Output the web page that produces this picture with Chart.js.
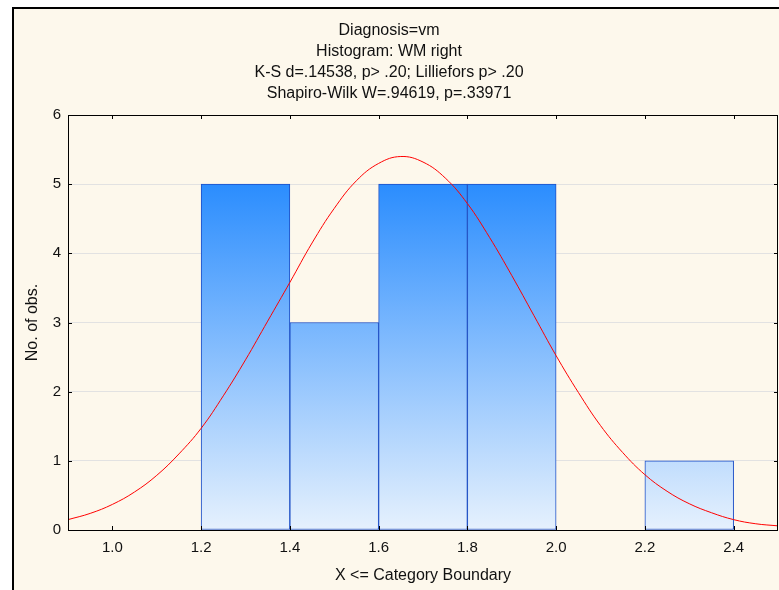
<!DOCTYPE html>
<html lang="en">
<head>
  <meta charset="UTF-8">
  <title>Histogram: WM right</title>
  <script src="https://cdn.jsdelivr.net/npm/chart.js"></script>
  <style>
    body {
      margin: 0;
      background: #fff;
      font-family: 'Liberation Sans', Arial, sans-serif;
    }

    .wrap {
      position: relative;
      width: 779px;
      height: 590px;
      overflow: hidden;
    }

    .frame {
      position: absolute;
      left: 12px;
      top: 7px;
      right: 0;
      bottom: 0;
      border-left: 2px solid #000;
      border-top: 2px solid #000;
      background: #fdf8ec;
    }

    canvas {
      position: absolute;
      left: 0;
      top: 0;
    }
  </style>
</head>
<body>

  <div class="wrap">
    <div class="frame"></div>
    <canvas id="histo" width="779" height="590"></canvas>
  </div>

  <script>
    // histogram bins (centre of each 0.2 wide class) and counts
    const binCentres = [1.3, 1.5, 1.7, 1.9, 2.3];
    const counts = [5, 3, 5, 5, 1];

    // fitted normal curve, read at 0.05 steps
    const curveX = [0.90, 0.95, 1.00, 1.05, 1.10, 1.15, 1.20, 1.25, 1.30, 1.35, 1.40,
                    1.45, 1.50, 1.55, 1.60, 1.65, 1.70, 1.75, 1.80, 1.85, 1.90, 1.95,
                    2.00, 2.05, 2.10, 2.15, 2.20, 2.25, 2.30, 2.35, 2.40, 2.45, 2.50];
    const curveY = [0.15, 0.24, 0.37, 0.55, 0.79, 1.10, 1.47, 1.94, 2.46, 3.02, 3.58,
                    4.15, 4.65, 5.05, 5.30, 5.40, 5.32, 5.09, 4.72, 4.23, 3.68, 3.10,
                    2.52, 1.99, 1.51, 1.12, 0.80, 0.56, 0.38, 0.25, 0.15, 0.09, 0.06];

    const xTicks = [1.0, 1.2, 1.4, 1.6, 1.8, 2.0, 2.2, 2.4];
    const yTicks = [0, 1, 2, 3, 4, 5, 6];

    const titleLines = [
      'Diagnosis=vm',
      'Histogram: WM right',
      'K-S d=.14538, p> .20; Lilliefors p> .20',
      'Shapiro-Wilk W=.94619, p=.33971'
    ];

    const FONT = "'Liberation Sans', Arial, sans-serif";

    // blue fill that fades towards the x axis, shared by all bars
    function barFill(context) {
      const chart = context.chart;
      const area = chart.chartArea;
      if (!area) return '#2b8dfe';
      const y = chart.scales.y;
      const g = chart.ctx.createLinearGradient(0, y.getPixelForValue(5), 0, y.getPixelForValue(0));
      g.addColorStop(0, '#2b8dfe');
      g.addColorStop(1, '#e6f1fd');
      return g;
    }

    // plot frame plus short inward tick marks on all four sides
    const frameTicks = {
      id: 'frameTicks',
      afterDatasetsDraw(chart) {
        const { ctx, chartArea: a, scales } = chart;
        ctx.save();
        ctx.strokeStyle = '#000';
        ctx.lineWidth = 1;
        ctx.beginPath();
        xTicks.forEach(v => {
          const px = Math.round(scales.x.getPixelForValue(v)) + 0.5;
          ctx.moveTo(px, a.top); ctx.lineTo(px, a.top + 4);
          ctx.moveTo(px, a.bottom); ctx.lineTo(px, a.bottom - 4);
        });
        yTicks.forEach(v => {
          const py = Math.round(scales.y.getPixelForValue(v)) + 0.5;
          ctx.moveTo(a.left, py); ctx.lineTo(a.left + 4, py);
          ctx.moveTo(a.right, py); ctx.lineTo(a.right - 4, py);
        });
        ctx.stroke();
        ctx.strokeRect(Math.round(a.left) + 0.5, Math.round(a.top) + 0.5,
                       Math.round(a.right - a.left) - 1, Math.round(a.bottom - a.top));
        ctx.restore();
      }
    };

    const ctx = document.getElementById('histo').getContext('2d');
    const chart = new Chart(ctx, {
      type: 'bar',
      data: {
        datasets: [
          {
            type: 'line',
            data: curveX.map((x, i) => ({ x: x, y: curveY[i] })),
            borderColor: '#ff0000',
            borderWidth: 1,
            pointRadius: 0,
            tension: 0.4,
            order: 0
          },
          {
            type: 'bar',
            data: binCentres.map((x, i) => ({ x: x, y: counts[i] })),
            backgroundColor: barFill,
            borderColor: '#1d4fc6',
            borderWidth: 1,
            borderSkipped: false,
            barPercentage: 1,
            categoryPercentage: 1,
            order: 1
          }
        ]
      },
      options: {
        responsive: false,
        animation: false,
        layout: { padding: { left: 0, right: 1, top: 0, bottom: 0 } },
        plugins: {
          legend: { display: false },
          tooltip: { enabled: false },
          title: {
            display: true,
            text: titleLines,
            color: '#111',
            font: { family: FONT, size: 16, weight: 'normal', lineHeight: 21 / 16 },
            padding: { top: 20, bottom: 11 }
          }
        },
        scales: {
          x: {
            type: 'linear',
            min: 0.9,
            max: 2.5,
            offset: false,
            afterBuildTicks: s => { s.ticks = xTicks.map(v => ({ value: v })); },
            afterFit: s => { s.height = 60; },
            grid: { display: false, drawTicks: false, offset: false },
            border: { display: false },
            ticks: {
              color: '#111',
              padding: 9,
              maxRotation: 0,
              font: { family: FONT, size: 15 },
              callback: v => v.toFixed(1)
            },
            title: {
              display: true,
              text: 'X <= Category Boundary',
              color: '#111',
              font: { family: FONT, size: 16 },
              padding: { top: 0, bottom: 5 }
            }
          },
          y: {
            min: 0,
            max: 6,
            afterBuildTicks: s => { s.ticks = yTicks.map(v => ({ value: v })); },
            afterFit: s => { s.width = 68; },
            grid: { color: '#e2e2e2', lineWidth: 1, drawTicks: false },
            border: { display: false },
            ticks: {
              color: '#111',
              padding: 7,
              font: { family: FONT, size: 15 }
            },
            title: {
              display: true,
              text: 'No. of obs.',
              color: '#111',
              font: { family: FONT, size: 16 },
              padding: { top: 23, bottom: 0 }
            }
          }
        }
      },
      plugins: [frameTicks]
    });
  </script>

</body>
</html>
